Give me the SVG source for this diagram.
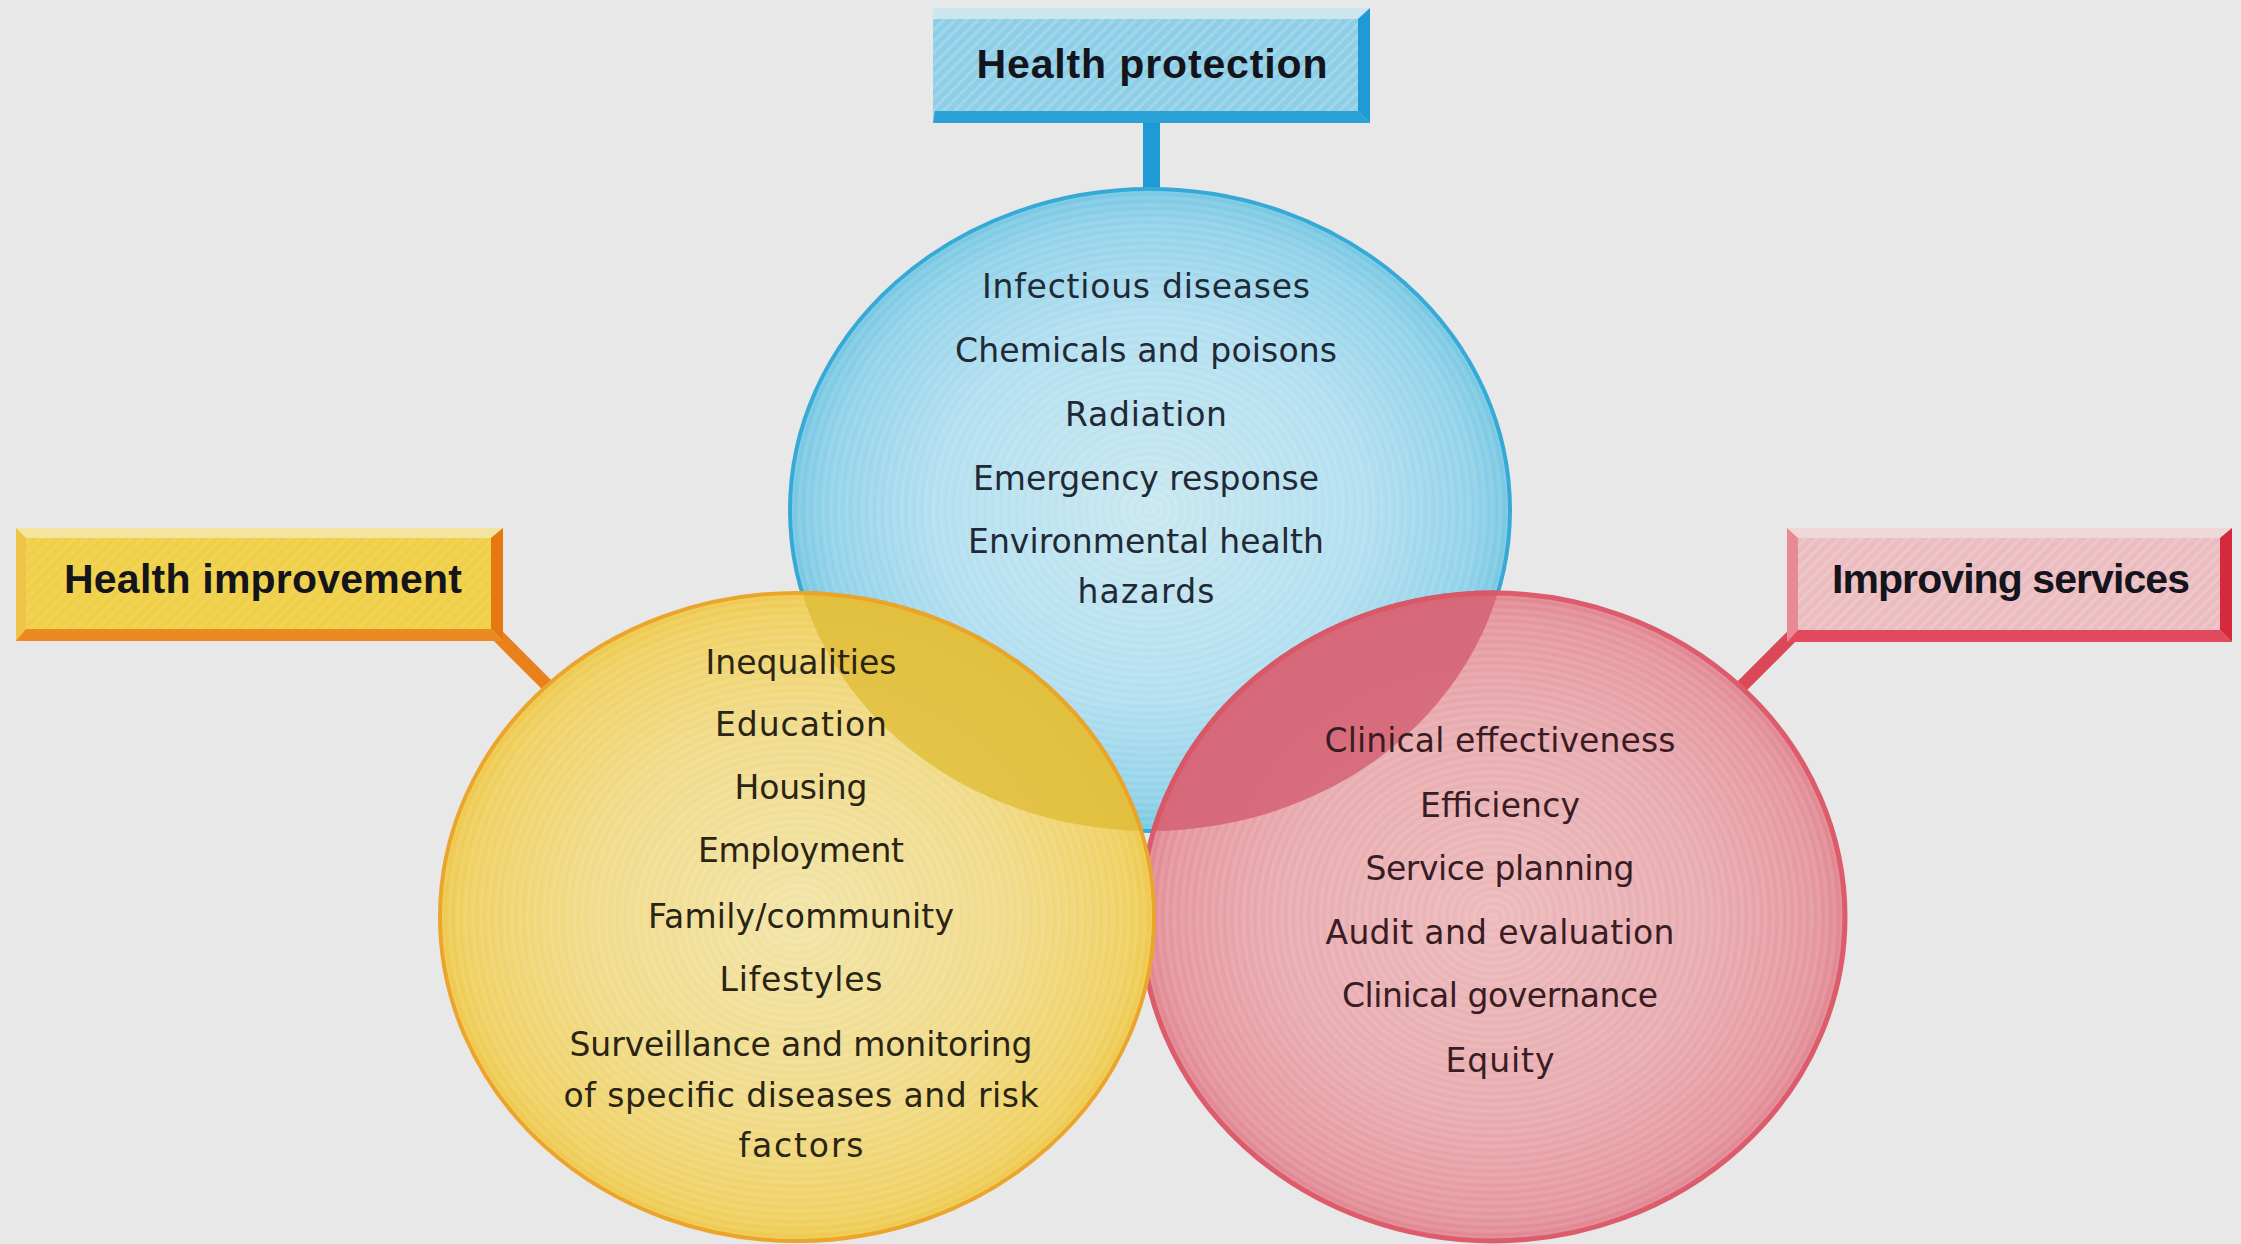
<svg xmlns="http://www.w3.org/2000/svg" width="2241" height="1244" viewBox="0 0 2241 1244">
  <style>
    .lbl { font-family: "Liberation Sans", Arial, sans-serif; font-weight: bold; font-size: 41px; fill: #14141c; text-anchor: middle; }
    .item { font-family: "DejaVu Sans", "Liberation Sans", sans-serif; font-size: 33px; text-anchor: middle; }
    .tb { fill: #1f2a36; }
    .ty { fill: #2a2414; }
    .tp { fill: #3a1c24; }
  </style>
  <defs>
    <radialGradient id="gBlue" cx="0.5" cy="0.5" r="0.5">
      <stop offset="0" stop-color="#c8e7ef"/>
      <stop offset="0.6" stop-color="#b0def0"/>
      <stop offset="0.9" stop-color="#8fd1e8"/>
      <stop offset="1" stop-color="#74c6e2"/>
    </radialGradient>
    <radialGradient id="gYellow" cx="0.5" cy="0.5" r="0.5">
      <stop offset="0" stop-color="#f2e3a6"/>
      <stop offset="0.6" stop-color="#f0da86"/>
      <stop offset="0.92" stop-color="#efd060"/>
      <stop offset="1" stop-color="#eec84a"/>
    </radialGradient>
    <radialGradient id="gYellowDark" cx="0.5" cy="0.5" r="0.5">
      <stop offset="0" stop-color="#e6c95a"/>
      <stop offset="1" stop-color="#e2c03e"/>
    </radialGradient>
    <radialGradient id="gPink" cx="0.5" cy="0.5" r="0.5">
      <stop offset="0" stop-color="#ecb8ba"/>
      <stop offset="0.6" stop-color="#e8aaae"/>
      <stop offset="0.92" stop-color="#e4959c"/>
      <stop offset="1" stop-color="#e0838e"/>
    </radialGradient>
    <radialGradient id="gPinkDark" cx="0.5" cy="0.5" r="0.5">
      <stop offset="0" stop-color="#da7682"/>
      <stop offset="1" stop-color="#d6687a"/>
    </radialGradient>
    <radialGradient id="rings" cx="0.5" cy="0.5" r="0.011" spreadMethod="repeat">
      <stop offset="0" stop-color="#ffffff" stop-opacity="0"/>
      <stop offset="0.5" stop-color="#ffffff" stop-opacity="0.14"/>
      <stop offset="1" stop-color="#ffffff" stop-opacity="0"/>
    </radialGradient>
    <pattern id="hatch" width="8" height="8" patternUnits="userSpaceOnUse" patternTransform="rotate(45)">
      <rect width="3" height="8" fill="#ffffff" fill-opacity="0.16"/>
    </pattern>
    <clipPath id="clipBlue">
      <ellipse cx="1150" cy="510" rx="360" ry="321"/>
    </clipPath>
  </defs>

  <rect x="0" y="0" width="2241" height="1244" fill="#e8e8e9"/>

  <!-- Connectors -->
  <g id="connectors">
    <rect x="1143" y="120" width="17" height="72" fill="#1f9ad4"/>
    <line x1="492" y1="630" x2="550" y2="688" stroke="#e8801c" stroke-width="13"/>
    <line x1="1798" y1="630" x2="1740" y2="688" stroke="#dc4858" stroke-width="13"/>
  </g>

  <!-- Circles -->
  <g id="circle-protection">
    <ellipse cx="1150" cy="510" rx="360" ry="321" fill="url(#gBlue)" stroke="#36aad6" stroke-width="4"/>
    <ellipse cx="1150" cy="510" rx="358" ry="319" fill="url(#rings)"/>
  </g>
  <g id="circle-services">
    <ellipse cx="1493" cy="917" rx="352" ry="324" fill="url(#gPink)" stroke="#dc5c6c" stroke-width="5"/>
    <ellipse cx="1493" cy="917" rx="349" ry="321" fill="url(#rings)"/>
    <ellipse cx="1493" cy="917" rx="352" ry="324" fill="url(#gPinkDark)" stroke="#d85868" stroke-width="5" clip-path="url(#clipBlue)"/>
  </g>
  <g id="circle-improvement">
    <ellipse cx="797" cy="917" rx="357" ry="324" fill="url(#gYellow)" stroke="#eba52a" stroke-width="4"/>
    <ellipse cx="797" cy="917" rx="355" ry="322" fill="url(#rings)"/>
    <ellipse cx="797" cy="917" rx="357" ry="324" fill="url(#gYellowDark)" stroke="#e9a42a" stroke-width="4" clip-path="url(#clipBlue)"/>
  </g>

  <!-- Circle texts -->
  <g id="text-protection" class="item tb">
    <text x="1146" y="298" textLength="328">Infectious diseases</text>
    <text x="1146" y="362" textLength="382">Chemicals and poisons</text>
    <text x="1146" y="426" textLength="162">Radiation</text>
    <text x="1146" y="490" textLength="346">Emergency response</text>
    <text x="1146" y="553" textLength="356">Environmental health</text>
    <text x="1146" y="603" textLength="137">hazards</text>
  </g>
  <g id="text-improvement" class="item ty">
    <text x="801" y="674" textLength="191">Inequalities</text>
    <text x="801" y="736" textLength="172">Education</text>
    <text x="801" y="799" textLength="133">Housing</text>
    <text x="801" y="862" textLength="206">Employment</text>
    <text x="801" y="928" textLength="306">Family/community</text>
    <text x="801" y="991" textLength="163">Lifestyles</text>
    <text x="801" y="1056" textLength="463">Surveillance and monitoring</text>
    <text x="801" y="1107" textLength="475">of specific diseases and risk</text>
    <text x="801" y="1157" textLength="125">factors</text>
  </g>
  <g id="text-services" class="item tp">
    <text x="1500" y="752" textLength="351">Clinical effectiveness</text>
    <text x="1500" y="817" textLength="160">Efficiency</text>
    <text x="1500" y="880" textLength="269">Service planning</text>
    <text x="1500" y="944" textLength="349">Audit and evaluation</text>
    <text x="1500" y="1007" textLength="316">Clinical governance</text>
    <text x="1500" y="1072" textLength="109">Equity</text>
  </g>

  <!-- Label boxes -->
  <g id="node-health-protection">
    <rect x="933" y="8" width="437" height="115" fill="#8ecfe7"/>
    <rect x="933" y="8" width="437" height="115" fill="url(#hatch)"/>
    <polygon points="933,8 1370,8 1358,19 933,19" fill="#cce6f0"/>
    <polygon points="1370,8 1370,123 1358,111 1358,19" fill="#1f9ad4"/>
    <polygon points="933,123 935,111 1358,111 1370,123" fill="#2aa2d8"/>
    <text class="lbl" x="1152" y="78" textLength="351">Health protection</text>
  </g>
  <g id="node-health-improvement">
    <rect x="16" y="528" width="487" height="113" fill="#f0d048"/>
    <rect x="16" y="528" width="487" height="113" fill="url(#hatch)" opacity="0.5"/>
    <polygon points="16,528 503,528 491,538 16,538" fill="#f3e4a0"/>
    <polygon points="16,528 26,538 26,629 16,641" fill="#f0c448"/>
    <polygon points="503,528 503,641 491,629 491,538" fill="#e67812"/>
    <polygon points="16,641 26,629 491,629 503,641" fill="#e98a22"/>
    <text class="lbl" x="263" y="593" textLength="398">Health improvement</text>
  </g>
  <g id="node-improving-services">
    <rect x="1787" y="528" width="445" height="114" fill="#ebbcc0"/>
    <rect x="1787" y="528" width="445" height="114" fill="url(#hatch)"/>
    <polygon points="1787,528 2232,528 2220,538 1787,538" fill="#f0d8d9"/>
    <polygon points="1787,528 1798,538 1798,630 1787,642" fill="#e78a94"/>
    <polygon points="2232,528 2232,642 2220,630 2220,538" fill="#d42a3c"/>
    <polygon points="1787,642 1798,630 2220,630 2232,642" fill="#e04a5c"/>
    <text class="lbl" x="2011" y="593" textLength="358">Improving services</text>
  </g>
</svg>
